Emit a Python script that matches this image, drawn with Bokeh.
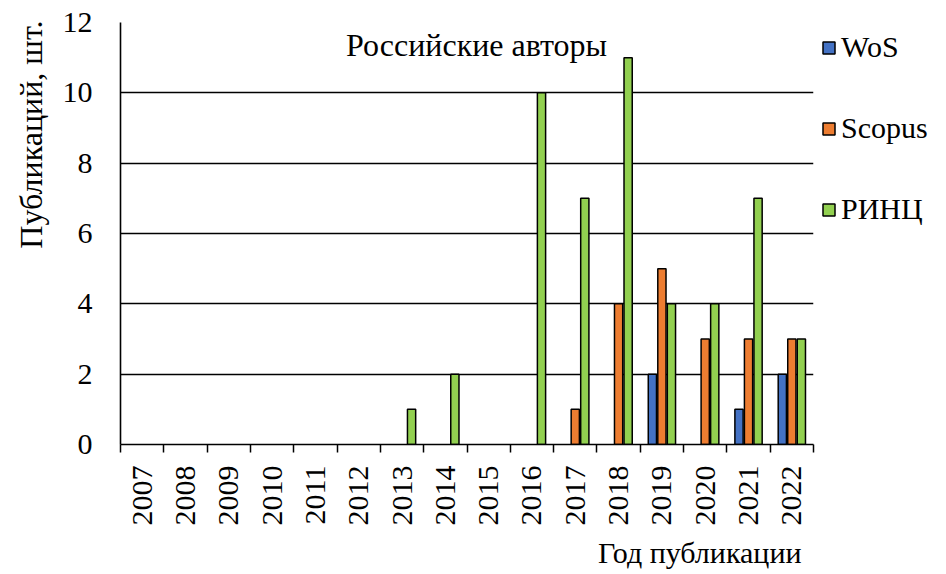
import math
from bokeh.plotting import figure
from bokeh.models import Range1d, FixedTicker, Legend, LegendItem, Label, Title, ColumnDataSource
from bokeh.embed import file_html
from bokeh.resources import INLINE

years = [str(y) for y in range(2007, 2023)]
wos = [0, 0, 0, 0, 0, 0, 0, 0, 0, 0, 0, 0, 2, 0, 1, 2]
scopus = [0, 0, 0, 0, 0, 0, 0, 0, 0, 0, 1, 4, 5, 3, 3, 3]
rinc = [0, 0, 0, 0, 0, 0, 1, 2, 0, 10, 7, 11, 4, 4, 7, 3]
series_names = ["WoS", "Scopus", "РИНЦ"]
series_values = [wos, scopus, rinc]
colors = ["#4472C4", "#ED7D31", "#92D050"]
y_ticks = [0, 2, 4, 6, 8, 10, 12]
title_text = "Российские авторы"
x_title = "Год публикации"
y_title = "Публикаций, шт."

FONT = "'Liberation Serif', 'Times New Roman', serif"
FS = "30px"

n = len(years)
p = figure(frame_width=693, frame_height=422, x_range=Range1d(0, n), y_range=Range1d(0, 12),
           output_backend="svg", toolbar_location=None,
           min_border_left=111, min_border_right=20, min_border_top=22, min_border_bottom=112)
p.outline_line_color = None
p.background_fill_color = "white"
p.xgrid.grid_line_color = None
p.ygrid.grid_line_color = "black"
p.ygrid.grid_line_width = 1.6

offsets = [-0.22, 0.0, 0.22]
bar_w = 0.19
items = []
for name, vals, col, off in zip(series_names, series_values, colors, offsets):
    xs = [i + 0.5 + off for i, v in enumerate(vals) if v > 0]
    ys = [v for v in vals if v > 0]
    src = ColumnDataSource(dict(x=xs, top=ys))
    r = p.vbar(x="x", top="top", width=bar_w, bottom=0, source=src,
               fill_color=col, line_color="black", line_width=1.5)
    items.append(LegendItem(label=name, renderers=[r]))

# x axis
xa = p.xaxis[0]
xa.ticker = FixedTicker(ticks=[i + 0.5 for i in range(n)], minor_ticks=list(range(n + 1)))
xa.major_label_overrides = {i + 0.5: years[i] for i in range(n)}
xa.major_label_orientation = math.pi / 2
xa.major_tick_line_color = None
xa.major_tick_out = 8
xa.major_tick_in = 0
xa.minor_tick_line_color = "black"
xa.minor_tick_line_width = 1.5
xa.minor_tick_out = 8
xa.minor_tick_in = 0
xa.axis_line_color = "black"
xa.axis_line_width = 1.6
xa.major_label_standoff = 13
xa.major_label_text_font = FONT
xa.major_label_text_font_size = FS
xa.major_label_text_color = "black"

# y axis
ya = p.yaxis[0]
ya.ticker = FixedTicker(ticks=y_ticks)
ya.major_tick_line_color = None
ya.major_tick_out = 0
ya.major_tick_in = 0
ya.minor_tick_line_color = None
ya.axis_line_color = "black"
ya.axis_line_width = 1.6
ya.major_label_standoff = 28
ya.major_label_text_font = FONT
ya.major_label_text_font_size = FS
ya.major_label_text_color = "black"

p.add_layout(Title(text=x_title, align="right", text_font=FONT, text_font_size=FS,
                   text_font_style="normal", text_color="black", offset=12), "below")
p.add_layout(Title(text=y_title, align="right", text_font=FONT, text_font_size="32px",
                   text_font_style="normal", text_color="black", offset=-2, standoff=21), "left")

p.add_layout(Label(x=8.22, y=11.35, text=title_text, text_align="center", text_baseline="middle",
                   text_font=FONT, text_font_size="32px", text_color="black"))

legend = Legend(items=items, location="top_left", ncols=1, label_text_font=FONT,
                label_text_font_size=FS, label_text_font_style="normal",
                label_text_color="black", glyph_width=15, glyph_height=15, label_standoff=5,
                spacing=47, border_line_color=None, background_fill_alpha=0, margin=8, padding=16)
p.add_layout(legend, "right")

open("out.html", "w").write(file_html(p, INLINE))
